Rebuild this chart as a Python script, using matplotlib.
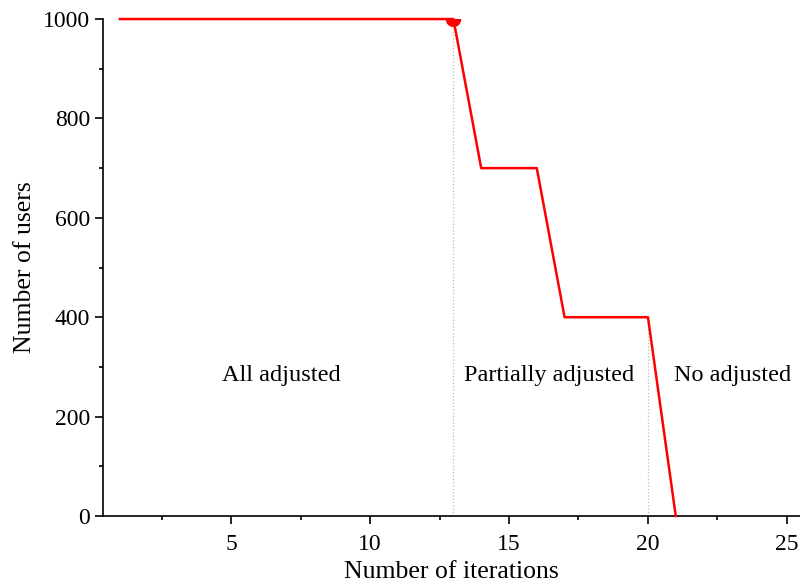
import matplotlib.pyplot as plt
from matplotlib.ticker import MultipleLocator

# Data
iterations = [1, 13, 14, 16, 17, 20, 21]
users = [1000, 1000, 700, 700, 400, 400, 0]
phase_x = [13, 20]
phase_labels = ["All adjusted", "Partially adjusted", "No adjusted"]
phase_label_x = [6.8, 16.45, 23.05]
phase_label_y = 283

plt.rcParams['font.family'] = ['Liberation Serif', 'DejaVu Serif']

fig = plt.figure(figsize=(8, 5.84), dpi=100)
ax = fig.add_axes([0.129, 0.1164, 0.871, 0.851])

# dotted guides at phase boundaries
for xv, yv in zip(phase_x, [users[1], users[5]]):
    ax.plot([xv, xv], [0, yv], color='#bbbbbb', linestyle=':', linewidth=0.9, zorder=1)

ax.plot(iterations, users, color='red', linewidth=1.8, zorder=3, clip_on=False)
ax.plot([iterations[1]], [users[1]], 'o', color='red', markersize=10, zorder=4)

for lx, lab in zip(phase_label_x, phase_labels):
    ax.text(lx, phase_label_y, lab, ha='center', va='center', fontsize=17.5)

ax.set_xlim(0.4, 25.47)
ax.set_ylim(0, 1000)
ax.xaxis.set_major_locator(MultipleLocator(5))
ax.xaxis.set_minor_locator(MultipleLocator(2.5))
ax.yaxis.set_major_locator(MultipleLocator(200))
ax.yaxis.set_minor_locator(MultipleLocator(100))
ax.tick_params(which='major', direction='out', length=6, width=1.2, labelsize=17)
ax.tick_params(axis='x', which='major', pad=7)
ax.tick_params(which='minor', direction='out', length=3, width=1.2)
for s in ['top', 'right']:
    ax.spines[s].set_visible(False)
for s in ['left', 'bottom']:
    ax.spines[s].set_linewidth(1.2)

ax.set_xlabel("Number of iterations", fontsize=18.5, labelpad=4)
ax.set_ylabel("Number of users", fontsize=18.5, labelpad=5)

fig.savefig("out.png", dpi=100)
